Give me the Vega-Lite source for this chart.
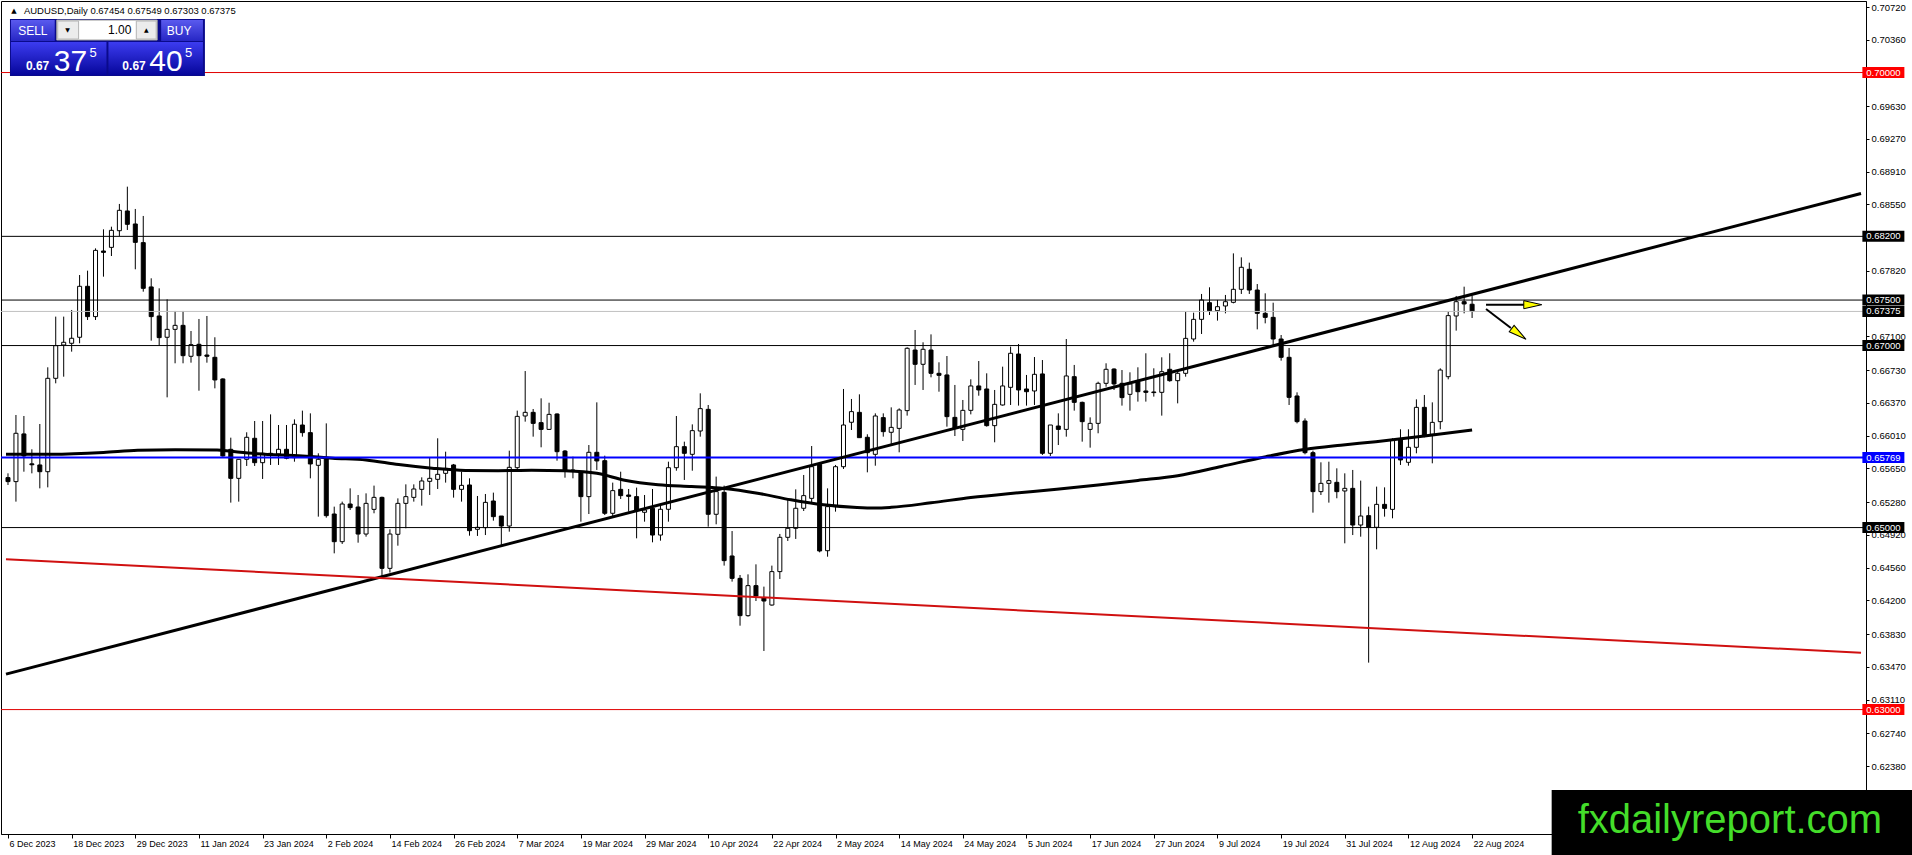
{
  "$schema": "https://vega.github.io/schema/vega-lite/v6.json",
  "width": 1865,
  "height": 833,
  "autosize": {"type": "none"},
  "padding": {"left": 1, "top": 1, "right": 46, "bottom": 21},
  "background": "#ffffff",
  "config": {"view": {"stroke": "#000000", "strokeWidth": 1}},
  "datasets": {
    "one": [{}],
    "candles": [
      {"bar":0,"o":0.65549,"h":0.65596,"l":0.65468,"c":0.65505},
      {"bar":1,"o":0.65505,"h":0.66237,"l":0.65285,"c":0.66036},
      {"bar":2,"o":0.66029,"h":0.66226,"l":0.65614,"c":0.65787},
      {"bar":3,"o":0.65700,"h":0.65860,"l":0.65596,"c":0.65690},
      {"bar":4,"o":0.65688,"h":0.66138,"l":0.65431,"c":0.65614},
      {"bar":5,"o":0.65614,"h":0.66761,"l":0.65442,"c":0.66640},
      {"bar":6,"o":0.66640,"h":0.67318,"l":0.66585,"c":0.66999},
      {"bar":7,"o":0.67006,"h":0.67318,"l":0.66658,"c":0.67036},
      {"bar":8,"o":0.67025,"h":0.67391,"l":0.66933,"c":0.67080},
      {"bar":9,"o":0.67091,"h":0.67775,"l":0.67025,"c":0.67651},
      {"bar":10,"o":0.67651,"h":0.67823,"l":0.67281,"c":0.67318},
      {"bar":11,"o":0.67318,"h":0.68068,"l":0.67281,"c":0.68046},
      {"bar":12,"o":0.68039,"h":0.68277,"l":0.67757,"c":0.68024},
      {"bar":13,"o":0.68079,"h":0.68306,"l":0.67984,"c":0.68266},
      {"bar":14,"o":0.68262,"h":0.68556,"l":0.68204,"c":0.68486},
      {"bar":15,"o":0.68479,"h":0.68746,"l":0.68270,"c":0.68332},
      {"bar":16,"o":0.68336,"h":0.68501,"l":0.67838,"c":0.68134},
      {"bar":17,"o":0.68131,"h":0.68424,"l":0.67592,"c":0.67629},
      {"bar":18,"o":0.67644,"h":0.67739,"l":0.67054,"c":0.67318},
      {"bar":19,"o":0.67325,"h":0.67629,"l":0.66999,"c":0.67087},
      {"bar":20,"o":0.67091,"h":0.67508,"l":0.66431,"c":0.67178},
      {"bar":21,"o":0.67178,"h":0.67380,"l":0.66805,"c":0.67222},
      {"bar":22,"o":0.67222,"h":0.67380,"l":0.66805,"c":0.66889},
      {"bar":23,"o":0.66882,"h":0.67160,"l":0.66812,"c":0.67010},
      {"bar":24,"o":0.67014,"h":0.67292,"l":0.66504,"c":0.66889},
      {"bar":25,"o":0.66896,"h":0.67325,"l":0.66812,"c":0.66882},
      {"bar":26,"o":0.66871,"h":0.67091,"l":0.66530,"c":0.66622},
      {"bar":27,"o":0.66633,"h":0.66640,"l":0.65779,"c":0.65787},
      {"bar":28,"o":0.65860,"h":0.65988,"l":0.65274,"c":0.65541},
      {"bar":29,"o":0.65541,"h":0.65750,"l":0.65285,"c":0.65750},
      {"bar":30,"o":0.65750,"h":0.66047,"l":0.65677,"c":0.65992},
      {"bar":31,"o":0.65981,"h":0.66171,"l":0.65677,"c":0.65713},
      {"bar":32,"o":0.65713,"h":0.66171,"l":0.65534,"c":0.65816},
      {"bar":33,"o":0.65816,"h":0.66244,"l":0.65688,"c":0.65794},
      {"bar":34,"o":0.65809,"h":0.66127,"l":0.65688,"c":0.65860},
      {"bar":35,"o":0.65860,"h":0.66127,"l":0.65750,"c":0.65761},
      {"bar":36,"o":0.65768,"h":0.66189,"l":0.65724,"c":0.66135},
      {"bar":37,"o":0.66127,"h":0.66285,"l":0.65999,"c":0.66043},
      {"bar":38,"o":0.66043,"h":0.66255,"l":0.65541,"c":0.65699},
      {"bar":39,"o":0.65684,"h":0.65816,"l":0.65120,"c":0.65750},
      {"bar":40,"o":0.65761,"h":0.66145,"l":0.65109,"c":0.65131},
      {"bar":41,"o":0.65149,"h":0.65230,"l":0.64717,"c":0.64845},
      {"bar":42,"o":0.64845,"h":0.65285,"l":0.64820,"c":0.65259},
      {"bar":43,"o":0.65259,"h":0.65431,"l":0.65193,"c":0.65219},
      {"bar":44,"o":0.65226,"h":0.65358,"l":0.64834,"c":0.64929},
      {"bar":45,"o":0.64929,"h":0.65376,"l":0.64900,"c":0.65266},
      {"bar":46,"o":0.65200,"h":0.65461,"l":0.65157,"c":0.65332},
      {"bar":47,"o":0.65332,"h":0.65340,"l":0.64461,"c":0.64552},
      {"bar":48,"o":0.64552,"h":0.64981,"l":0.64505,"c":0.64929},
      {"bar":49,"o":0.64926,"h":0.65321,"l":0.64801,"c":0.65266},
      {"bar":50,"o":0.65266,"h":0.65475,"l":0.64992,"c":0.65340},
      {"bar":51,"o":0.65332,"h":0.65475,"l":0.65285,"c":0.65424},
      {"bar":52,"o":0.65420,"h":0.65552,"l":0.65241,"c":0.65512},
      {"bar":53,"o":0.65508,"h":0.65768,"l":0.65358,"c":0.65541},
      {"bar":54,"o":0.65530,"h":0.65981,"l":0.65424,"c":0.65585},
      {"bar":55,"o":0.65596,"h":0.65834,"l":0.65494,"c":0.65651},
      {"bar":56,"o":0.65688,"h":0.65699,"l":0.65329,"c":0.65420},
      {"bar":57,"o":0.65420,"h":0.65614,"l":0.65285,"c":0.65464},
      {"bar":58,"o":0.65468,"h":0.65541,"l":0.64911,"c":0.64966},
      {"bar":59,"o":0.64981,"h":0.65347,"l":0.64908,"c":0.65003},
      {"bar":60,"o":0.64999,"h":0.65369,"l":0.64918,"c":0.65277},
      {"bar":61,"o":0.65292,"h":0.65384,"l":0.65076,"c":0.65120},
      {"bar":62,"o":0.65127,"h":0.65127,"l":0.64809,"c":0.65017},
      {"bar":63,"o":0.65017,"h":0.65845,"l":0.64955,"c":0.65662},
      {"bar":64,"o":0.65658,"h":0.66285,"l":0.65633,"c":0.66222},
      {"bar":65,"o":0.66226,"h":0.66720,"l":0.66164,"c":0.66266},
      {"bar":66,"o":0.66266,"h":0.66303,"l":0.65999,"c":0.66145},
      {"bar":67,"o":0.66153,"h":0.66420,"l":0.65882,"c":0.66079},
      {"bar":68,"o":0.66079,"h":0.66372,"l":0.66072,"c":0.66244},
      {"bar":69,"o":0.66248,"h":0.66255,"l":0.65735,"c":0.65834},
      {"bar":70,"o":0.65841,"h":0.65852,"l":0.65548,"c":0.65625},
      {"bar":71,"o":0.65633,"h":0.65779,"l":0.65541,"c":0.65618},
      {"bar":72,"o":0.65614,"h":0.65622,"l":0.65065,"c":0.65340},
      {"bar":73,"o":0.65340,"h":0.65907,"l":0.65149,"c":0.65827},
      {"bar":74,"o":0.65827,"h":0.66376,"l":0.65633,"c":0.65732},
      {"bar":75,"o":0.65735,"h":0.65790,"l":0.65138,"c":0.65157},
      {"bar":76,"o":0.65157,"h":0.65494,"l":0.65120,"c":0.65406},
      {"bar":77,"o":0.65420,"h":0.65614,"l":0.65314,"c":0.65351},
      {"bar":78,"o":0.65358,"h":0.65424,"l":0.65175,"c":0.65343},
      {"bar":79,"o":0.65340,"h":0.65439,"l":0.64882,"c":0.65193},
      {"bar":80,"o":0.65168,"h":0.65358,"l":0.65065,"c":0.65193},
      {"bar":81,"o":0.65212,"h":0.65424,"l":0.64838,"c":0.64918},
      {"bar":82,"o":0.64918,"h":0.65248,"l":0.64856,"c":0.65201},
      {"bar":83,"o":0.65201,"h":0.65724,"l":0.65065,"c":0.65658},
      {"bar":84,"o":0.65658,"h":0.66226,"l":0.65625,"c":0.65889},
      {"bar":85,"o":0.65889,"h":0.65944,"l":0.65523,"c":0.65816},
      {"bar":86,"o":0.65805,"h":0.66134,"l":0.65625,"c":0.66065},
      {"bar":87,"o":0.66061,"h":0.66475,"l":0.65999,"c":0.66307},
      {"bar":88,"o":0.66299,"h":0.66347,"l":0.65010,"c":0.65146},
      {"bar":89,"o":0.65146,"h":0.65560,"l":0.65036,"c":0.65395},
      {"bar":90,"o":0.65387,"h":0.65461,"l":0.64582,"c":0.64637},
      {"bar":91,"o":0.64688,"h":0.64962,"l":0.64406,"c":0.64442},
      {"bar":92,"o":0.64442,"h":0.64479,"l":0.63922,"c":0.64032},
      {"bar":93,"o":0.64032,"h":0.64486,"l":0.64021,"c":0.64362},
      {"bar":94,"o":0.64362,"h":0.64596,"l":0.64193,"c":0.64248},
      {"bar":95,"o":0.64230,"h":0.64351,"l":0.63644,"c":0.64193},
      {"bar":96,"o":0.64149,"h":0.64582,"l":0.64142,"c":0.64516},
      {"bar":97,"o":0.64516,"h":0.64930,"l":0.64435,"c":0.64893},
      {"bar":98,"o":0.64893,"h":0.65303,"l":0.64853,"c":0.64992},
      {"bar":99,"o":0.64992,"h":0.65420,"l":0.64875,"c":0.65212},
      {"bar":100,"o":0.65212,"h":0.65578,"l":0.65182,"c":0.65351},
      {"bar":101,"o":0.65321,"h":0.65896,"l":0.65277,"c":0.65669},
      {"bar":102,"o":0.65695,"h":0.65713,"l":0.64728,"c":0.64743},
      {"bar":103,"o":0.64746,"h":0.65431,"l":0.64680,"c":0.65230},
      {"bar":104,"o":0.65230,"h":0.65688,"l":0.65175,"c":0.65669},
      {"bar":105,"o":0.65669,"h":0.66523,"l":0.65644,"c":0.66127},
      {"bar":106,"o":0.66157,"h":0.66413,"l":0.66072,"c":0.66274},
      {"bar":107,"o":0.66266,"h":0.66464,"l":0.65988,"c":0.65988},
      {"bar":108,"o":0.65992,"h":0.66025,"l":0.65607,"c":0.65823},
      {"bar":109,"o":0.65805,"h":0.66255,"l":0.65680,"c":0.66226},
      {"bar":110,"o":0.66208,"h":0.66255,"l":0.65999,"c":0.66054},
      {"bar":111,"o":0.66047,"h":0.66321,"l":0.65918,"c":0.66101},
      {"bar":112,"o":0.66090,"h":0.66310,"l":0.65827,"c":0.66292},
      {"bar":113,"o":0.66285,"h":0.66981,"l":0.66230,"c":0.66970},
      {"bar":114,"o":0.66951,"h":0.67171,"l":0.66567,"c":0.66794},
      {"bar":115,"o":0.66794,"h":0.67036,"l":0.66512,"c":0.66959},
      {"bar":116,"o":0.66951,"h":0.67123,"l":0.66651,"c":0.66695},
      {"bar":117,"o":0.66695,"h":0.66816,"l":0.66493,"c":0.66673},
      {"bar":118,"o":0.66677,"h":0.66885,"l":0.66109,"c":0.66219},
      {"bar":119,"o":0.66211,"h":0.66567,"l":0.66006,"c":0.66090},
      {"bar":120,"o":0.66079,"h":0.66402,"l":0.65951,"c":0.66288},
      {"bar":121,"o":0.66288,"h":0.66629,"l":0.66244,"c":0.66556},
      {"bar":122,"o":0.66556,"h":0.66830,"l":0.66449,"c":0.66512},
      {"bar":123,"o":0.66523,"h":0.66695,"l":0.66109,"c":0.66120},
      {"bar":124,"o":0.66120,"h":0.66512,"l":0.65937,"c":0.66354},
      {"bar":125,"o":0.66347,"h":0.66768,"l":0.66340,"c":0.66556},
      {"bar":126,"o":0.66541,"h":0.66988,"l":0.66347,"c":0.66915},
      {"bar":127,"o":0.66907,"h":0.67017,"l":0.66340,"c":0.66512},
      {"bar":128,"o":0.66523,"h":0.66677,"l":0.66340,"c":0.66493},
      {"bar":129,"o":0.66501,"h":0.66874,"l":0.66347,"c":0.66684},
      {"bar":130,"o":0.66688,"h":0.66841,"l":0.65798,"c":0.65816},
      {"bar":131,"o":0.65816,"h":0.66127,"l":0.65787,"c":0.66127},
      {"bar":132,"o":0.66116,"h":0.66255,"l":0.65907,"c":0.66079},
      {"bar":133,"o":0.66079,"h":0.67072,"l":0.65999,"c":0.66666},
      {"bar":134,"o":0.66658,"h":0.66787,"l":0.66285,"c":0.66376},
      {"bar":135,"o":0.66376,"h":0.66384,"l":0.65944,"c":0.66164},
      {"bar":136,"o":0.66079,"h":0.66211,"l":0.65878,"c":0.66145},
      {"bar":137,"o":0.66145,"h":0.66603,"l":0.66036,"c":0.66585},
      {"bar":138,"o":0.66585,"h":0.66805,"l":0.66548,"c":0.66739},
      {"bar":139,"o":0.66742,"h":0.66750,"l":0.66512,"c":0.66578},
      {"bar":140,"o":0.66585,"h":0.66731,"l":0.66340,"c":0.66428},
      {"bar":141,"o":0.66464,"h":0.66706,"l":0.66285,"c":0.66578},
      {"bar":142,"o":0.66603,"h":0.66761,"l":0.66384,"c":0.66493},
      {"bar":143,"o":0.66501,"h":0.66915,"l":0.66384,"c":0.66486},
      {"bar":144,"o":0.66490,"h":0.66750,"l":0.66439,"c":0.66483},
      {"bar":145,"o":0.66486,"h":0.66871,"l":0.66230,"c":0.66713},
      {"bar":146,"o":0.66739,"h":0.66915,"l":0.66603,"c":0.66614},
      {"bar":147,"o":0.66614,"h":0.66731,"l":0.66365,"c":0.66695},
      {"bar":148,"o":0.66695,"h":0.67372,"l":0.66658,"c":0.67079},
      {"bar":149,"o":0.67072,"h":0.67361,"l":0.67043,"c":0.67288},
      {"bar":150,"o":0.67288,"h":0.67567,"l":0.67127,"c":0.67501},
      {"bar":151,"o":0.67471,"h":0.67640,"l":0.67336,"c":0.67383},
      {"bar":152,"o":0.67383,"h":0.67501,"l":0.67274,"c":0.67427},
      {"bar":153,"o":0.67435,"h":0.67556,"l":0.67354,"c":0.67482},
      {"bar":154,"o":0.67475,"h":0.68013,"l":0.67464,"c":0.67618},
      {"bar":155,"o":0.67618,"h":0.67969,"l":0.67567,"c":0.67860},
      {"bar":156,"o":0.67838,"h":0.67911,"l":0.67567,"c":0.67610},
      {"bar":157,"o":0.67610,"h":0.67676,"l":0.67178,"c":0.67354},
      {"bar":158,"o":0.67354,"h":0.67574,"l":0.67244,"c":0.67310},
      {"bar":159,"o":0.67310,"h":0.67471,"l":0.67006,"c":0.67072},
      {"bar":160,"o":0.67072,"h":0.67116,"l":0.66834,"c":0.66871},
      {"bar":161,"o":0.66871,"h":0.66974,"l":0.66347,"c":0.66431},
      {"bar":162,"o":0.66446,"h":0.66486,"l":0.66145,"c":0.66164},
      {"bar":163,"o":0.66171,"h":0.66200,"l":0.65805,"c":0.65823},
      {"bar":164,"o":0.65823,"h":0.65845,"l":0.65164,"c":0.65395},
      {"bar":165,"o":0.65395,"h":0.65717,"l":0.65358,"c":0.65486},
      {"bar":166,"o":0.65486,"h":0.65724,"l":0.65274,"c":0.65516},
      {"bar":167,"o":0.65497,"h":0.65651,"l":0.65322,"c":0.65395},
      {"bar":168,"o":0.65402,"h":0.65596,"l":0.64827,"c":0.65431},
      {"bar":169,"o":0.65431,"h":0.65633,"l":0.64918,"c":0.65028},
      {"bar":170,"o":0.65028,"h":0.65516,"l":0.64900,"c":0.65127},
      {"bar":171,"o":0.65131,"h":0.65230,"l":0.63516,"c":0.65003},
      {"bar":172,"o":0.65003,"h":0.65450,"l":0.64761,"c":0.65255},
      {"bar":173,"o":0.65255,"h":0.65442,"l":0.65120,"c":0.65211},
      {"bar":174,"o":0.65200,"h":0.65981,"l":0.65102,"c":0.65962},
      {"bar":175,"o":0.65962,"h":0.66080,"l":0.65688,"c":0.65743},
      {"bar":176,"o":0.65717,"h":0.66080,"l":0.65680,"c":0.65882},
      {"bar":177,"o":0.65882,"h":0.66409,"l":0.65816,"c":0.66321},
      {"bar":178,"o":0.66321,"h":0.66457,"l":0.65992,"c":0.66017},
      {"bar":179,"o":0.66025,"h":0.66376,"l":0.65706,"c":0.66156},
      {"bar":180,"o":0.66164,"h":0.66750,"l":0.66080,"c":0.66731},
      {"bar":181,"o":0.66658,"h":0.67372,"l":0.66629,"c":0.67329},
      {"bar":182,"o":0.67325,"h":0.67545,"l":0.67164,"c":0.67482},
      {"bar":183,"o":0.67482,"h":0.67647,"l":0.67354,"c":0.67457},
      {"bar":184,"o":0.67454,"h":0.67549,"l":0.67303,"c":0.67375}
    ],
    "ma": [
      {"bar":-0.25,"ma":0.65805},{"bar":5.5,"ma":0.65806},{"bar":12,"ma":0.65826},{"bar":16.3,"ma":0.6585},
      {"bar":21,"ma":0.65856},{"bar":26.3,"ma":0.65852},{"bar":28,"ma":0.65838},{"bar":31.3,"ma":0.65812},
      {"bar":37,"ma":0.65787},{"bar":40.8,"ma":0.65763},{"bar":45,"ma":0.65743},{"bar":49.1,"ma":0.65692},
      {"bar":53.3,"ma":0.65653},{"bar":57.5,"ma":0.65628},{"bar":61.6,"ma":0.65625},{"bar":65.8,"ma":0.65631},
      {"bar":70,"ma":0.65624},{"bar":74,"ma":0.65596},{"bar":77.5,"ma":0.6552},{"bar":81.7,"ma":0.6547},
      {"bar":85.9,"ma":0.6545},{"bar":90,"ma":0.6543},{"bar":94.2,"ma":0.65378},{"bar":98.4,"ma":0.65305},
      {"bar":102.5,"ma":0.6525},{"bar":106.7,"ma":0.6522},{"bar":109,"ma":0.65214},{"bar":111,"ma":0.65222},
      {"bar":116,"ma":0.65272},{"bar":121,"ma":0.6533},{"bar":126,"ma":0.65375},{"bar":131.8,"ma":0.6542},
      {"bar":137,"ma":0.65468},{"bar":142,"ma":0.65518},{"bar":147,"ma":0.6557},{"bar":152.5,"ma":0.65672},
      {"bar":158.1,"ma":0.65779},{"bar":163.1,"ma":0.6586},{"bar":167.5,"ma":0.65905},{"bar":171.9,"ma":0.65944},
      {"bar":178,"ma":0.66005},{"bar":184,"ma":0.66072}
    ],
    "levels": [
      {"p":0.70,"t":"limit"},{"p":0.682,"t":"level"},{"p":0.675,"t":"level"},{"p":0.67375,"t":"bid"},
      {"p":0.67,"t":"level"},{"p":0.65769,"t":"pivot"},{"p":0.65,"t":"level"},{"p":0.63,"t":"limit"}
    ],
    "trend": [{"bar":-0.25,"p":0.6339},{"bar":232.875,"p":0.6867}],
    "redline": [{"bar":-0.25,"p":0.64653},{"bar":232.875,"p":0.63624}]
  },
  "layer": [
    {
      "data": {"name": "candles"},
      "mark": {"type": "rule", "color": "#000000", "strokeWidth": 1},
      "encoding": {
        "x": {"field": "bar", "type": "quantitative", "title": null,
          "scale": {"domain": [-0.25, 232.875], "nice": false, "zero": false},
          "axis": {"orient": "bottom", "values": [0,8,16,24,32,40,48,56,64,72,80,88,96,104,112,120,128,136,144,152,160,168,176,184],
            "labelExpr": "['6 Dec 2023','18 Dec 2023','29 Dec 2023','11 Jan 2024','23 Jan 2024','2 Feb 2024','14 Feb 2024','26 Feb 2024','7 Mar 2024','19 Mar 2024','29 Mar 2024','10 Apr 2024','22 Apr 2024','2 May 2024','14 May 2024','24 May 2024','5 Jun 2024','17 Jun 2024','27 Jun 2024','9 Jul 2024','19 Jul 2024','31 Jul 2024','12 Aug 2024','22 Aug 2024'][datum.value/8]",
            "labelAlign": "left", "labelBaseline": "top", "labelOffset": 1, "labelPadding": 1,
            "tickSize": 4, "tickColor": "#000000", "domainColor": "#000000", "grid": false, "title": null,
            "labelFont": "Liberation Sans", "labelFontSize": 9, "labelColor": "#000000",
            "labelOverlap": false, "labelFlush": false, "labelBound": false}},
        "y": {"field": "l", "type": "quantitative", "title": null,
          "scale": {"domain": [0.61633, 0.70786], "nice": false, "zero": false},
          "axis": {"orient": "right", "values": [0.7072,0.7036,0.6963,0.6927,0.6891,0.6855,0.6782,0.671,0.6673,0.6637,0.6601,0.6565,0.6528,0.6492,0.6456,0.642,0.6383,0.6347,0.6311,0.6274,0.6238],
            "format": ".5f", "tickSize": 3, "tickColor": "#000000", "domainColor": "#000000", "labelPadding": 2,
            "grid": false, "title": null, "labelFont": "Liberation Sans", "labelFontSize": 9.5, "labelColor": "#000000",
            "labelOverlap": false, "labelFlush": false, "labelBound": false}},
        "y2": {"field": "h"}
      }
    },
    {
      "data": {"name": "candles"},
      "mark": {"type": "bar", "width": 4, "stroke": "#000000", "strokeWidth": 1},
      "encoding": {
        "x": {"field": "bar", "type": "quantitative", "title": null, "scale": {"domain": [-0.25, 232.875], "nice": false, "zero": false}},
        "y": {"field": "o", "type": "quantitative", "title": null, "scale": {"domain": [0.61633, 0.70786], "nice": false, "zero": false}},
        "y2": {"field": "c"},
        "fill": {"condition": {"test": "datum.c > datum.o", "value": "#ffffff"}, "value": "#000000"}
      }
    },
    {
      "data": {"name": "ma"},
      "mark": {"type": "line", "color": "#000000", "strokeWidth": 3, "interpolate": "monotone"},
      "encoding": {
        "x": {"field": "bar", "type": "quantitative", "title": null, "scale": {"domain": [-0.25, 232.875], "nice": false, "zero": false}},
        "y": {"field": "ma", "type": "quantitative", "title": null, "scale": {"domain": [0.61633, 0.70786], "nice": false, "zero": false}}
      }
    },
    {
      "data": {"name": "levels"},
      "mark": {"type": "rule"},
      "encoding": {
        "y": {"field": "p", "type": "quantitative", "title": null, "scale": {"domain": [0.61633, 0.70786], "nice": false, "zero": false}},
        "color": {"condition": [
          {"test": "datum.t === 'limit'", "value": "#e00000"},
          {"test": "datum.t === 'bid'", "value": "#c0c0c0"},
          {"test": "datum.t === 'pivot'", "value": "#0000ff"}], "value": "#000000"},
        "strokeWidth": {"condition": {"test": "datum.t === 'pivot'", "value": 2}, "value": 1}
      }
    },
    {
      "data": {"name": "trend"},
      "mark": {"type": "line", "color": "#000000", "strokeWidth": 3},
      "encoding": {
        "x": {"field": "bar", "type": "quantitative", "title": null, "scale": {"domain": [-0.25, 232.875], "nice": false, "zero": false}},
        "y": {"field": "p", "type": "quantitative", "title": null, "scale": {"domain": [0.61633, 0.70786], "nice": false, "zero": false}}
      }
    },
    {
      "data": {"name": "redline"},
      "mark": {"type": "line", "color": "#d01010", "strokeWidth": 2},
      "encoding": {
        "x": {"field": "bar", "type": "quantitative", "title": null, "scale": {"domain": [-0.25, 232.875], "nice": false, "zero": false}},
        "y": {"field": "p", "type": "quantitative", "title": null, "scale": {"domain": [0.61633, 0.70786], "nice": false, "zero": false}}
      }
    },
    {
      "data": {"name": "one"},
      "mark": {"type": "rule", "color": "#000000", "strokeWidth": 2},
      "encoding": {
        "x": {"datum": 185.75, "type": "quantitative", "scale": {"domain": [-0.25, 232.875], "nice": false, "zero": false}},
        "x2": {"datum": 190.6},
        "y": {"datum": 0.67449, "type": "quantitative", "scale": {"domain": [0.61633, 0.70786], "nice": false, "zero": false}}
      }
    },
    {
      "data": {"name": "one"},
      "mark": {"type": "rule", "color": "#000000", "strokeWidth": 2},
      "encoding": {
        "x": {"datum": 185.75, "type": "quantitative", "scale": {"domain": [-0.25, 232.875], "nice": false, "zero": false}},
        "x2": {"datum": 188.875},
        "y": {"datum": 0.67402, "type": "quantitative", "scale": {"domain": [0.61633, 0.70786], "nice": false, "zero": false}},
        "y2": {"datum": 0.67193}
      }
    },
    {
      "data": {"name": "one"},
      "mark": {"type": "point", "shape": "M-1,-0.45L1,0L-1,0.45Z", "size": 324, "filled": true, "fill": "#ffff00", "stroke": "#000000", "strokeWidth": 1, "opacity": 1},
      "encoding": {
        "x": {"datum": 191.625, "type": "quantitative", "scale": {"domain": [-0.25, 232.875], "nice": false, "zero": false}},
        "y": {"datum": 0.67449, "type": "quantitative", "scale": {"domain": [0.61633, 0.70786], "nice": false, "zero": false}}
      }
    },
    {
      "data": {"name": "one"},
      "mark": {"type": "point", "shape": "M-1,-0.45L1,0L-1,0.45Z", "size": 324, "angle": 37, "filled": true, "fill": "#ffff00", "stroke": "#000000", "strokeWidth": 1, "opacity": 1},
      "encoding": {
        "x": {"datum": 189.875, "type": "quantitative", "scale": {"domain": [-0.25, 232.875], "nice": false, "zero": false}},
        "y": {"datum": 0.67127, "type": "quantitative", "scale": {"domain": [0.61633, 0.70786], "nice": false, "zero": false}}
      }
    },
    {
      "data": {"name": "one"},
      "mark": {"type": "rect", "fill": "#0a0a8c"},
      "encoding": {
        "x": {"datum": 0.25, "type": "quantitative", "scale": {"domain": [-0.25, 232.875], "nice": false, "zero": false}},
        "x2": {"datum": 24.75},
        "y": {"datum": 0.70588, "type": "quantitative", "scale": {"domain": [0.61633, 0.70786], "nice": false, "zero": false}},
        "y2": {"datum": 0.69962}
      }
    },
    {
      "data": {"name": "one"},
      "mark": {"type": "rect", "fill": {"gradient": "linear", "x1": 0, "y1": 0, "x2": 0, "y2": 1, "stops": [{"offset": 0, "color": "#5a5aee"}, {"offset": 1, "color": "#2626c4"}]}},
      "encoding": {
        "x": {"datum": 0.375, "type": "quantitative", "scale": {"domain": [-0.25, 232.875], "nice": false, "zero": false}},
        "x2": {"datum": 5.875},
        "y": {"datum": 0.70577, "type": "quantitative", "scale": {"domain": [0.61633, 0.70786], "nice": false, "zero": false}},
        "y2": {"datum": 0.70346}
      }
    },
    {
      "data": {"name": "one"},
      "mark": {"type": "rect", "fill": {"gradient": "linear", "x1": 0, "y1": 0, "x2": 0, "y2": 1, "stops": [{"offset": 0, "color": "#5a5aee"}, {"offset": 1, "color": "#2626c4"}]}},
      "encoding": {
        "x": {"datum": 19.25, "type": "quantitative", "scale": {"domain": [-0.25, 232.875], "nice": false, "zero": false}},
        "x2": {"datum": 24.5},
        "y": {"datum": 0.70577, "type": "quantitative", "scale": {"domain": [0.61633, 0.70786], "nice": false, "zero": false}},
        "y2": {"datum": 0.70346}
      }
    },
    {
      "data": {"name": "one"},
      "mark": {"type": "rect", "fill": "#ffffff", "stroke": "#9a9a9a", "strokeWidth": 1},
      "encoding": {
        "x": {"datum": 6.125, "type": "quantitative", "scale": {"domain": [-0.25, 232.875], "nice": false, "zero": false}},
        "x2": {"datum": 18.75},
        "y": {"datum": 0.70577, "type": "quantitative", "scale": {"domain": [0.61633, 0.70786], "nice": false, "zero": false}},
        "y2": {"datum": 0.70357}
      }
    },
    {
      "data": {"name": "one"},
      "mark": {"type": "rect", "fill": "#ececec", "stroke": "#b4b4b4", "strokeWidth": 1},
      "encoding": {
        "x": {"datum": 6.25, "type": "quantitative", "scale": {"domain": [-0.25, 232.875], "nice": false, "zero": false}},
        "x2": {"datum": 8.875},
        "y": {"datum": 0.70566, "type": "quantitative", "scale": {"domain": [0.61633, 0.70786], "nice": false, "zero": false}},
        "y2": {"datum": 0.70368}
      }
    },
    {
      "data": {"name": "one"},
      "mark": {"type": "rect", "fill": "#ececec", "stroke": "#b4b4b4", "strokeWidth": 1},
      "encoding": {
        "x": {"datum": 16.125, "type": "quantitative", "scale": {"domain": [-0.25, 232.875], "nice": false, "zero": false}},
        "x2": {"datum": 18.625},
        "y": {"datum": 0.70566, "type": "quantitative", "scale": {"domain": [0.61633, 0.70786], "nice": false, "zero": false}},
        "y2": {"datum": 0.70368}
      }
    },
    {
      "data": {"name": "one"},
      "mark": {"type": "rect", "fill": {"gradient": "linear", "x1": 0, "y1": 0, "x2": 0, "y2": 1, "stops": [{"offset": 0, "color": "#3c3cf0"}, {"offset": 1, "color": "#06069a"}]}},
      "encoding": {
        "x": {"datum": 0.375, "type": "quantitative", "scale": {"domain": [-0.25, 232.875], "nice": false, "zero": false}},
        "x2": {"datum": 12.375},
        "y": {"datum": 0.70336, "type": "quantitative", "scale": {"domain": [0.61633, 0.70786], "nice": false, "zero": false}},
        "y2": {"datum": 0.69973}
      }
    },
    {
      "data": {"name": "one"},
      "mark": {"type": "rect", "fill": {"gradient": "linear", "x1": 0, "y1": 0, "x2": 0, "y2": 1, "stops": [{"offset": 0, "color": "#3c3cf0"}, {"offset": 1, "color": "#06069a"}]}},
      "encoding": {
        "x": {"datum": 12.625, "type": "quantitative", "scale": {"domain": [-0.25, 232.875], "nice": false, "zero": false}},
        "x2": {"datum": 24.5},
        "y": {"datum": 0.70336, "type": "quantitative", "scale": {"domain": [0.61633, 0.70786], "nice": false, "zero": false}},
        "y2": {"datum": 0.69973}
      }
    },
    {
      "data": {"name": "one"},
      "mark": {"type": "text", "text": "▲", "font": "DejaVu Sans", "fontSize": 7, "color": "#000000", "align": "center", "baseline": "middle"},
      "encoding": {
        "x": {"datum": 0.75, "type": "quantitative", "scale": {"domain": [-0.25, 232.875], "nice": false, "zero": false}},
        "y": {"datum": 0.70676, "type": "quantitative", "scale": {"domain": [0.61633, 0.70786], "nice": false, "zero": false}}
      }
    },
    {
      "data": {"name": "one"},
      "mark": {"type": "text", "text": "AUDUSD,Daily  0.67454 0.67549 0.67303 0.67375", "font": "Liberation Sans", "fontSize": 9.5, "color": "#000000", "align": "left", "baseline": "middle"},
      "encoding": {
        "x": {"datum": 2.0, "type": "quantitative", "scale": {"domain": [-0.25, 232.875], "nice": false, "zero": false}},
        "y": {"datum": 0.70676, "type": "quantitative", "scale": {"domain": [0.61633, 0.70786], "nice": false, "zero": false}}
      }
    },
    {
      "data": {"name": "one"},
      "mark": {"type": "text", "text": "SELL", "font": "Liberation Sans", "fontSize": 12, "color": "#ffffff", "align": "center", "baseline": "middle"},
      "encoding": {
        "x": {"datum": 3.125, "type": "quantitative", "scale": {"domain": [-0.25, 232.875], "nice": false, "zero": false}},
        "y": {"datum": 0.70456, "type": "quantitative", "scale": {"domain": [0.61633, 0.70786], "nice": false, "zero": false}}
      }
    },
    {
      "data": {"name": "one"},
      "mark": {"type": "text", "text": "BUY", "font": "Liberation Sans", "fontSize": 12, "color": "#ffffff", "align": "center", "baseline": "middle"},
      "encoding": {
        "x": {"datum": 21.5, "type": "quantitative", "scale": {"domain": [-0.25, 232.875], "nice": false, "zero": false}},
        "y": {"datum": 0.70456, "type": "quantitative", "scale": {"domain": [0.61633, 0.70786], "nice": false, "zero": false}}
      }
    },
    {
      "data": {"name": "one"},
      "mark": {"type": "text", "text": "1.00", "font": "Liberation Sans", "fontSize": 12, "color": "#000000", "align": "right", "baseline": "middle"},
      "encoding": {
        "x": {"datum": 15.5, "type": "quantitative", "scale": {"domain": [-0.25, 232.875], "nice": false, "zero": false}},
        "y": {"datum": 0.70467, "type": "quantitative", "scale": {"domain": [0.61633, 0.70786], "nice": false, "zero": false}}
      }
    },
    {
      "data": {"name": "one"},
      "mark": {"type": "text", "text": "▼", "font": "DejaVu Sans", "fontSize": 6, "color": "#000000", "align": "center", "baseline": "middle"},
      "encoding": {
        "x": {"datum": 7.5, "type": "quantitative", "scale": {"domain": [-0.25, 232.875], "nice": false, "zero": false}},
        "y": {"datum": 0.70467, "type": "quantitative", "scale": {"domain": [0.61633, 0.70786], "nice": false, "zero": false}}
      }
    },
    {
      "data": {"name": "one"},
      "mark": {"type": "text", "text": "▲", "font": "DejaVu Sans", "fontSize": 6, "color": "#000000", "align": "center", "baseline": "middle"},
      "encoding": {
        "x": {"datum": 17.375, "type": "quantitative", "scale": {"domain": [-0.25, 232.875], "nice": false, "zero": false}},
        "y": {"datum": 0.70467, "type": "quantitative", "scale": {"domain": [0.61633, 0.70786], "nice": false, "zero": false}}
      }
    },
    {
      "data": {"name": "one"},
      "mark": {"type": "text", "text": "0.67", "font": "Liberation Sans", "fontSize": 12, "fontWeight": "bold", "color": "#ffffff", "align": "left", "baseline": "alphabetic"},
      "encoding": {
        "x": {"datum": 2.25, "type": "quantitative", "scale": {"domain": [-0.25, 232.875], "nice": false, "zero": false}},
        "y": {"datum": 0.70028, "type": "quantitative", "scale": {"domain": [0.61633, 0.70786], "nice": false, "zero": false}}
      }
    },
    {
      "data": {"name": "one"},
      "mark": {"type": "text", "text": "37", "font": "Liberation Sans", "fontSize": 30, "color": "#ffffff", "align": "left", "baseline": "alphabetic"},
      "encoding": {
        "x": {"datum": 5.75, "type": "quantitative", "scale": {"domain": [-0.25, 232.875], "nice": false, "zero": false}},
        "y": {"datum": 0.70017, "type": "quantitative", "scale": {"domain": [0.61633, 0.70786], "nice": false, "zero": false}}
      }
    },
    {
      "data": {"name": "one"},
      "mark": {"type": "text", "text": "5", "font": "Liberation Sans", "fontSize": 13, "color": "#ffffff", "align": "left", "baseline": "middle"},
      "encoding": {
        "x": {"datum": 10.25, "type": "quantitative", "scale": {"domain": [-0.25, 232.875], "nice": false, "zero": false}},
        "y": {"datum": 0.70215, "type": "quantitative", "scale": {"domain": [0.61633, 0.70786], "nice": false, "zero": false}}
      }
    },
    {
      "data": {"name": "one"},
      "mark": {"type": "text", "text": "0.67", "font": "Liberation Sans", "fontSize": 12, "fontWeight": "bold", "color": "#ffffff", "align": "left", "baseline": "alphabetic"},
      "encoding": {
        "x": {"datum": 14.375, "type": "quantitative", "scale": {"domain": [-0.25, 232.875], "nice": false, "zero": false}},
        "y": {"datum": 0.70028, "type": "quantitative", "scale": {"domain": [0.61633, 0.70786], "nice": false, "zero": false}}
      }
    },
    {
      "data": {"name": "one"},
      "mark": {"type": "text", "text": "40", "font": "Liberation Sans", "fontSize": 30, "color": "#ffffff", "align": "left", "baseline": "alphabetic"},
      "encoding": {
        "x": {"datum": 17.75, "type": "quantitative", "scale": {"domain": [-0.25, 232.875], "nice": false, "zero": false}},
        "y": {"datum": 0.70017, "type": "quantitative", "scale": {"domain": [0.61633, 0.70786], "nice": false, "zero": false}}
      }
    },
    {
      "data": {"name": "one"},
      "mark": {"type": "text", "text": "5", "font": "Liberation Sans", "fontSize": 13, "color": "#ffffff", "align": "left", "baseline": "middle"},
      "encoding": {
        "x": {"datum": 22.25, "type": "quantitative", "scale": {"domain": [-0.25, 232.875], "nice": false, "zero": false}},
        "y": {"datum": 0.70215, "type": "quantitative", "scale": {"domain": [0.61633, 0.70786], "nice": false, "zero": false}}
      }
    },
    {
      "data": {"name": "levels"},
      "mark": {"type": "point", "shape": "M-1,-0.262H1V0.262H-1Z", "size": 1764, "filled": true, "opacity": 1, "strokeWidth": 0},
      "encoding": {
        "x": {"datum": 235.6875, "type": "quantitative", "scale": {"domain": [-0.25, 232.875], "nice": false, "zero": false}},
        "y": {"field": "p", "type": "quantitative", "title": null, "scale": {"domain": [0.61633, 0.70786], "nice": false, "zero": false}},
        "fill": {"condition": [
          {"test": "datum.t === 'limit'", "value": "#ff0000"},
          {"test": "datum.t === 'pivot'", "value": "#0000ff"}], "value": "#000000"}
      }
    },
    {
      "data": {"name": "levels"},
      "mark": {"type": "text", "font": "Liberation Sans", "fontSize": 9.5, "color": "#ffffff", "align": "center", "baseline": "middle"},
      "encoding": {
        "x": {"datum": 235.6875, "type": "quantitative", "scale": {"domain": [-0.25, 232.875], "nice": false, "zero": false}},
        "y": {"field": "p", "type": "quantitative", "title": null, "scale": {"domain": [0.61633, 0.70786], "nice": false, "zero": false}},
        "text": {"field": "p", "type": "quantitative", "format": ".5f"}
      }
    },
    {
      "data": {"name": "one"},
      "mark": {"type": "rect", "fill": "#000000"},
      "encoding": {
        "x": {"datum": 194, "type": "quantitative", "scale": {"domain": [-0.25, 232.875], "nice": false, "zero": false}},
        "x2": {"datum": 240},
        "y": {"datum": 0.62117, "type": "quantitative", "scale": {"domain": [0.61633, 0.70786], "nice": false, "zero": false}},
        "y2": {"datum": 0.6139}
      }
    },
    {
      "data": {"name": "one"},
      "mark": {"type": "text", "text": "fxdailyreport.com", "font": "Liberation Sans", "fontSize": 40, "color": "#44dd2a", "align": "center", "baseline": "middle"},
      "encoding": {
        "x": {"datum": 216.4, "type": "quantitative", "scale": {"domain": [-0.25, 232.875], "nice": false, "zero": false}},
        "y": {"datum": 0.6178, "type": "quantitative", "scale": {"domain": [0.61633, 0.70786], "nice": false, "zero": false}}
      }
    }
  ]
}
